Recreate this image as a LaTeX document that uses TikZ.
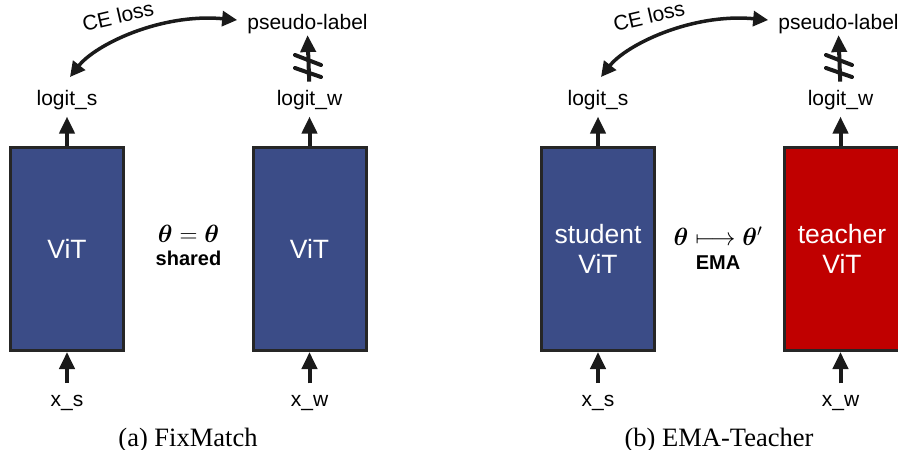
\documentclass[tikz,border=0pt]{standalone}
\usepackage{amsmath,bm}
\usepackage{fontspec}
\setmainfont{Liberation Serif}
\setsansfont{Liberation Sans}
\usetikzlibrary{arrows.meta}
\definecolor{vitblue}{HTML}{3B4C87}
\definecolor{vitred}{HTML}{C00000}
\definecolor{boxline}{HTML}{262626}
\definecolor{arrowcol}{HTML}{1A1A1A}
\tikzset{
  lbl/.style={font=\sffamily\fontsize{21}{24}\selectfont, inner sep=0pt, anchor=base},
  vitbox/.style={draw=boxline, line width=3pt, fill=vitblue, minimum width=113pt,
    minimum height=203pt, text=white, align=center, inner sep=0pt,
    font=\sffamily\fontsize{26.5}{30}\selectfont},
  flow/.style={line width=4pt, draw=arrowcol, -{Triangle[width=15pt,length=17pt]}},
  ce/.style={line width=3.5pt, draw=arrowcol,
    {Triangle[width=15pt,length=15pt]}-{Triangle[width=15pt,length=15pt]}},
  slashmark/.style={line width=4pt, draw=arrowcol, line cap=round},
  mid/.style={inner sep=0pt, font=\fontsize{27}{30}\selectfont},
  midsub/.style={inner sep=0pt, font=\sffamily\bfseries\fontsize{20}{24}\selectfont},
  celbl/.style={rotate=13, font=\sffamily\fontsize{21}{24}\selectfont, inner sep=0pt},
  captionlbl/.style={inner sep=0pt, anchor=base, font=\fontsize{26.5}{30}\selectfont},
}
\begin{document}
\begin{tikzpicture}[x=1pt, y=-1pt]
\useasboundingbox (0,0) rectangle (898,450);

% ---------- (a) FixMatch ----------
\node[vitbox] (va) at (67,249) {ViT};
\node[vitbox] (vb) at (309.5,249) {ViT};
\node[lbl] (lsa) at (67,105) {logit\_s};
\node[lbl] (lwa) at (309.5,105) {logit\_w};
\node[lbl] (pla) at (307.5,29.5) {pseudo-label};
\node[lbl] (xsa) at (67,406.7) {x\_s};
\node[lbl] (xwa) at (309.5,406.7) {x\_w};

\draw[flow, shorten >=7pt] (va.north) -- (lsa.south);
\draw[flow, shorten >=7pt] (vb.north) -- (lwa.south);
\draw[flow, shorten <=12pt] (xsa.north) -- (va.south);
\draw[flow, shorten <=12pt] (xwa.north) -- (vb.south);
\draw[flow, shorten <=8pt, shorten >=1pt] (lwa.north) -- (pla.south);
\draw[slashmark] (295,55) -- (321,65);
\draw[slashmark] (295,68) -- (321,77);

\draw[ce] ([xshift=3pt,yshift=28pt]lsa.base) .. controls (95,45) and (160,13) .. ([xshift=-10pt,yshift=9.5pt]pla.base west);
\node[celbl] (cea) at (118,16) {CE loss};

\node[mid] (eqa) at (188.5,234) {$\boldsymbol{\theta}=\boldsymbol{\theta}$};
\node[midsub] (sha) at (188.5,258) {shared};

\node[captionlbl] (capa) at (188,446) {(a) FixMatch};

% ---------- (b) EMA-Teacher ----------
\node[vitbox] (vc) at (598,249) {student\\ViT};
\node[vitbox, fill=vitred, minimum width=115pt] (vd) at (842,249) {teacher\\ViT};
\node[lbl] (lsb) at (598,105) {logit\_s};
\node[lbl] (lwb) at (840.5,105) {logit\_w};
\node[lbl] (plb) at (838.5,29.5) {pseudo-label};
\node[lbl] (xsb) at (598,406.7) {x\_s};
\node[lbl] (xwb) at (840.5,406.7) {x\_w};

\draw[flow, shorten >=7pt] (vc.north) -- (lsb.south);
\draw[flow, shorten >=7pt] (vd.north -| lwb.south) -- (lwb.south);
\draw[flow, shorten <=12pt] (xsb.north) -- (vc.south);
\draw[flow, shorten <=12pt] (xwb.north) -- (vd.south -| xwb.north);
\draw[flow, shorten <=8pt, shorten >=1pt] (lwb.north) -- (plb.south);
\draw[slashmark] (826,55) -- (852,65);
\draw[slashmark] (826,68) -- (852,77);

\draw[ce] ([xshift=3pt,yshift=28pt]lsb.base) .. controls (626,45) and (691,13) .. ([xshift=-10pt,yshift=9.5pt]plb.base west);
\node[celbl] (ceb) at (649,16) {CE loss};

\node[mid] (eqb) at (718,236) {$\boldsymbol{\theta}\longmapsto\boldsymbol{\theta}'$};
\node[midsub] (emb) at (718,263) {EMA};

\node[captionlbl] (capb) at (719,446) {(b) EMA-Teacher};
\end{tikzpicture}
\end{document}
